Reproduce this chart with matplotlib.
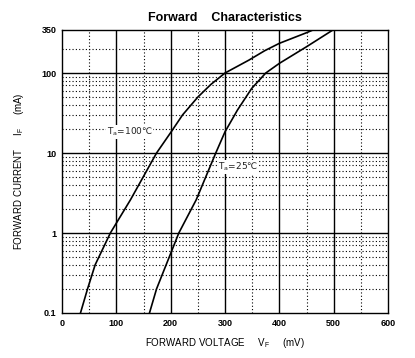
import matplotlib
matplotlib.use("Agg")
import matplotlib.pyplot as plt
from matplotlib.ticker import FixedLocator, NullFormatter

plt.rcParams['font.family'] = ['Liberation Sans', 'DejaVu Sans']

v_100 = [34, 47, 61, 89, 126, 174, 200, 222, 250, 274, 300, 344, 373, 400, 450, 464]
i_100 = [0.1, 0.2, 0.4, 1, 2.6, 10, 18, 30, 50, 72, 100, 145, 190, 235, 319, 350]
v_25 = [161, 174, 215, 247, 283, 300, 323, 349, 375, 400, 450, 500]
i_25 = [0.1, 0.2, 1, 2.6, 10, 18.4, 34.5, 64, 100, 132, 213, 350]

x_ticks = [0, 100, 200, 300, 400, 500, 600]
y_ticks = [0.1, 1, 10, 100, 350]
y_tick_labels = ["0.1", "1", "10", "100", "350"]
x_minor = [50, 150, 250, 350, 450, 550]
y_minor = [m * d for d in (0.1, 1, 10) for m in range(2, 10)] + [200]

fig = plt.figure(figsize=(4.15, 3.58), dpi=100)
ax = fig.add_axes([62 / 415, 1 - 313 / 358, 326 / 415, (313 - 29.5) / 358])

ax.plot(v_100, i_100, color='black', lw=1.2)
ax.plot(v_25, i_25, color='black', lw=1.2)

ax.set_yscale('log')
ax.set_xlim(0, 600)
ax.set_ylim(0.1, 350)

ax.set_xticks(x_ticks)
ax.set_xticklabels([str(t) for t in x_ticks], fontsize=6.5, fontweight='bold')
ax.xaxis.set_minor_locator(FixedLocator(x_minor))
ax.set_yticks(y_ticks)
ax.set_yticklabels(y_tick_labels, fontsize=6.5, fontweight='bold')
ax.yaxis.set_minor_locator(FixedLocator(y_minor))
ax.yaxis.set_minor_formatter(NullFormatter())
ax.tick_params(which='both', length=0, pad=4)

for t in [100, 200, 300, 400, 500]:
    ax.axvline(t, color='black', lw=1.0)
for t in [1, 10, 100]:
    ax.axhline(t, color='black', lw=1.0)
ax.grid(which='minor', color='black', linestyle=(0, (1, 2)), lw=0.8)

for s in ax.spines.values():
    s.set_linewidth(1.0)

ax.set_title("Forward    Characteristics", fontsize=9, fontweight='bold', pad=6)
ax.set_xlabel(r"FORWARD VOLTAGE     V$_\mathregular{F}$     (mV)", fontsize=7, labelpad=6)
ax.set_ylabel(r"FORWARD CURRENT     I$_\mathregular{F}$     (mA)", fontsize=7, labelpad=11)

box = dict(facecolor='white', edgecolor='none', pad=0.5)
ax.text(82, 17, r"T$_\mathregular{a}$=100℃", fontsize=6.5, color='#222222',
        family='DejaVu Sans', bbox=box, zorder=5)
ax.text(288, 6.2, r"T$_\mathregular{a}$=25℃", fontsize=6.5, color='#222222',
        family='DejaVu Sans', bbox=box, zorder=5)

fig.savefig("out.png", dpi=100)
